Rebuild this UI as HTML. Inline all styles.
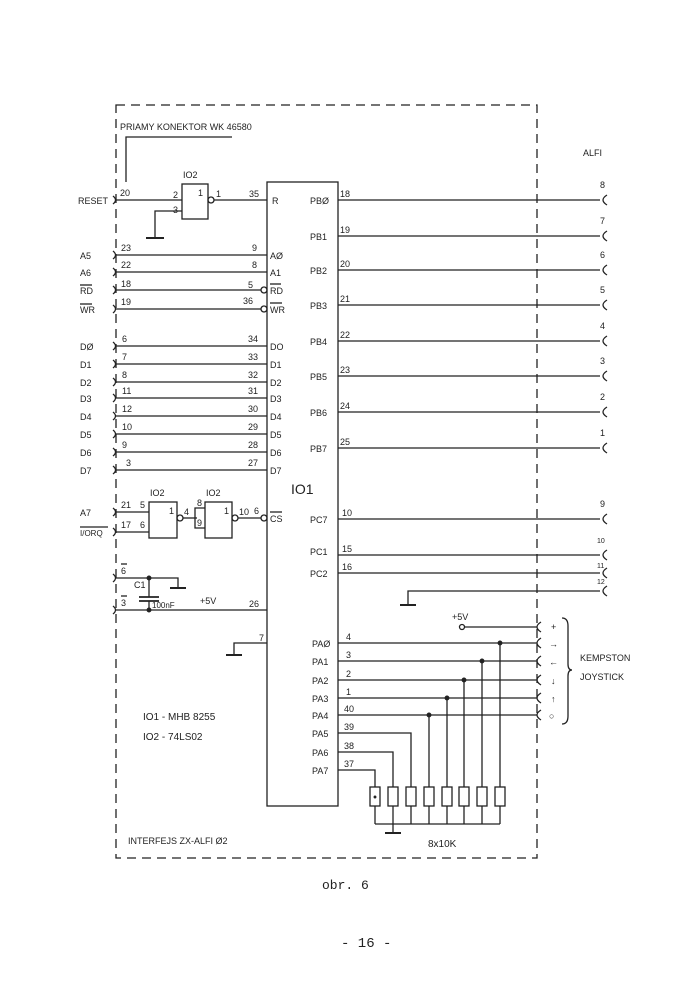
<!DOCTYPE html>
<html><head><meta charset="utf-8"><style>
html,body{margin:0;padding:0;background:#fff}
svg{display:block}
text{font-family:"Liberation Sans",sans-serif;fill:#222}
.s{font-size:9px}
.m{font-size:10px}
.mono{font-family:"Liberation Mono",monospace;font-size:14px}
</style></head><body>
<svg width="688" height="1000" viewBox="0 0 688 1000" xmlns="http://www.w3.org/2000/svg" stroke="#222" stroke-width="1.3" fill="none">
<!-- dashed frame -->
<rect x="116" y="105" width="421" height="753" stroke-dasharray="9,6"/>
<text x="120" y="130" class="s" stroke="none">PRIAMY KONEKTOR  WK 46580</text>
<polyline points="126,182 126,137 232,137"/>
<text x="583" y="156" class="s" stroke="none">ALFI</text>
<!-- IC -->
<rect x="267" y="182" width="71" height="624"/>
<text x="291" y="494" style="font-size:14px" stroke="none">IO1</text>
<!-- RESET gate -->
<text x="78" y="204" class="s" stroke="none">RESET</text>
<path d="M113,196 q5,4 0,8"/>
<text x="120" y="196" class="s" stroke="none">20</text>
<line x1="116" y1="200" x2="182" y2="200"/>
<rect x="182" y="184" width="26" height="35"/>
<text x="198" y="196" class="s" stroke="none">1</text>
<text x="173" y="198" class="s" stroke="none">2</text>
<text x="173" y="213" class="s" stroke="none">3</text>
<text x="183" y="178" class="s" stroke="none">IO2</text>
<polyline points="182,211 155,211 155,237"/>
<line x1="146" y1="238" x2="164" y2="238" stroke-width="2"/>
<circle cx="211" cy="200" r="3"/>
<line x1="214" y1="200" x2="267" y2="200"/>
<text x="216" y="197" class="s" stroke="none">1</text>
<text x="249" y="197" class="s" stroke="none">35</text>
<text x="272" y="204" class="s" stroke="none">R</text>
<!-- left pins -->
<g class="s" stroke="none">
<text x="80" y="259">A5</text><text x="80" y="276">A6</text>
<text x="80" y="294">RD</text><text x="80" y="313">WR</text>
<text x="80" y="350">DØ</text><text x="80" y="368">D1</text><text x="80" y="386">D2</text><text x="80" y="402">D3</text>
<text x="80" y="420">D4</text><text x="80" y="438">D5</text><text x="80" y="456">D6</text><text x="80" y="474">D7</text>
<text x="80" y="516">A7</text><text x="80" y="536" style="font-size:8px">I/ORQ</text>
</g>
<line x1="80" y1="285" x2="92" y2="285"/><line x1="80" y1="304" x2="92" y2="304"/><line x1="80" y1="527" x2="108" y2="527"/>
<g>
<path d="M113,251 q5,4 0,8"/><line x1="116" y1="255" x2="267" y2="255"/>
<path d="M113,268 q5,4 0,8"/><line x1="116" y1="272" x2="267" y2="272"/>
<path d="M113,286 q5,4 0,8"/><line x1="116" y1="290" x2="261" y2="290"/><circle cx="264" cy="290" r="3"/>
<path d="M113,305 q5,4 0,8"/><line x1="116" y1="309" x2="261" y2="309"/><circle cx="264" cy="309" r="3"/>
<path d="M113,342 q5,4 0,8"/><line x1="116" y1="346" x2="267" y2="346"/>
<path d="M113,360 q5,4 0,8"/><line x1="116" y1="364" x2="267" y2="364"/>
<path d="M113,378 q5,4 0,8"/><line x1="116" y1="382" x2="267" y2="382"/>
<path d="M113,394 q5,4 0,8"/><line x1="116" y1="398" x2="267" y2="398"/>
<path d="M113,412 q5,4 0,8"/><line x1="116" y1="416" x2="267" y2="416"/>
<path d="M113,430 q5,4 0,8"/><line x1="116" y1="434" x2="267" y2="434"/>
<path d="M113,448 q5,4 0,8"/><line x1="116" y1="452" x2="267" y2="452"/>
<path d="M113,466 q5,4 0,8"/><line x1="116" y1="470" x2="267" y2="470"/>
</g>
<g class="s" stroke="none">
<text x="121" y="251">23</text><text x="121" y="268">22</text><text x="121" y="287">18</text><text x="121" y="305">19</text>
<text x="122" y="342">6</text><text x="122" y="360">7</text><text x="122" y="378">8</text><text x="122" y="394">11</text>
<text x="122" y="412">12</text><text x="122" y="430">10</text><text x="122" y="448">9</text><text x="126" y="466">3</text>
<text x="252" y="251">9</text><text x="252" y="268">8</text><text x="248" y="288">5</text><text x="243" y="304">36</text>
<text x="248" y="342">34</text><text x="248" y="360">33</text><text x="248" y="378">32</text><text x="248" y="394">31</text>
<text x="248" y="412">30</text><text x="248" y="430">29</text><text x="248" y="448">28</text><text x="248" y="466">27</text>
<text x="270" y="259">AØ</text><text x="270" y="276">A1</text><text x="270" y="294">RD</text><text x="270" y="313">WR</text>
<text x="270" y="350">DO</text><text x="270" y="368">D1</text><text x="270" y="386">D2</text><text x="270" y="402">D3</text>
<text x="270" y="420">D4</text><text x="270" y="438">D5</text><text x="270" y="456">D6</text><text x="270" y="474">D7</text>
</g>
<line x1="270" y1="284" x2="281" y2="284"/><line x1="270" y1="303" x2="282" y2="303"/>
<!-- A7 / IORQ gates -->
<path d="M113,508 q5,4 0,8"/><line x1="116" y1="512" x2="149" y2="512"/>
<path d="M113,528 q5,4 0,8"/><line x1="116" y1="532" x2="149" y2="532"/>
<text x="121" y="508" class="s" stroke="none">21</text><text x="121" y="528" class="s" stroke="none">17</text>
<text x="140" y="508" class="s" stroke="none">5</text><text x="140" y="528" class="s" stroke="none">6</text>
<rect x="149" y="502" width="28" height="36"/>
<text x="169" y="514" class="s" stroke="none">1</text>
<text x="150" y="496" class="s" stroke="none">IO2</text>
<circle cx="180" cy="518" r="3"/>
<line x1="183" y1="518" x2="197" y2="518"/>
<text x="184" y="515" class="s" stroke="none">4</text>
<polyline points="205,508 195,508 195,528 205,528"/>
<text x="197" y="506" class="s" stroke="none">8</text><text x="197" y="526" class="s" stroke="none">9</text>
<rect x="205" y="502" width="27" height="36"/>
<text x="224" y="514" class="s" stroke="none">1</text>
<text x="206" y="496" class="s" stroke="none">IO2</text>
<circle cx="235" cy="518" r="3"/>
<line x1="238" y1="518" x2="261" y2="518"/><circle cx="264" cy="518" r="3"/>
<text x="239" y="515" class="s" stroke="none">10</text><text x="254" y="514" class="s" stroke="none">6</text>
<text x="270" y="522" class="s" stroke="none">CS</text><line x1="270" y1="512" x2="282" y2="512"/>
<!-- cap and power -->
<path d="M113,574 q5,4 0,8"/><text x="121" y="574" class="s" stroke="none">6</text><line x1="121" y1="564" x2="127" y2="564"/>
<polyline points="116,578 178,578 178,587"/>
<line x1="170" y1="588" x2="186" y2="588" stroke-width="2"/>
<line x1="149" y1="578" x2="149" y2="597"/>
<line x1="139" y1="597" x2="159" y2="597" stroke-width="1.8"/>
<line x1="139" y1="601" x2="159" y2="601" stroke-width="1.8"/>
<line x1="149" y1="601" x2="149" y2="610"/>
<circle cx="149" cy="578" r="1.8" fill="#222"/><circle cx="149" cy="610" r="1.8" fill="#222"/>
<text x="134" y="588" class="s" stroke="none">C1</text>
<text x="152" y="608" style="font-size:8px" stroke="none">100nF</text>
<path d="M113,606 q5,4 0,8"/><text x="121" y="606" class="s" stroke="none">3</text><line x1="121" y1="596" x2="127" y2="596"/>
<line x1="116" y1="610" x2="267" y2="610"/>
<text x="200" y="604" class="s" stroke="none">+5V</text>
<text x="249" y="607" class="s" stroke="none">26</text>
<polyline points="267,643 234,643 234,654"/>
<line x1="226" y1="655" x2="242" y2="655" stroke-width="2"/>
<text x="259" y="641" class="s" stroke="none">7</text>
<text x="143" y="720" class="m" stroke="none">IO1 - MHB 8255</text>
<text x="143" y="740" class="m" stroke="none">IO2 - 74LS02</text>
<text x="128" y="844" class="s" stroke="none">INTERFEJS  ZX-ALFI Ø2</text>
<!-- right side PB/PC -->
<g>
<line x1="338" y1="200" x2="600" y2="200"/><line x1="338" y1="236" x2="600" y2="236"/>
<line x1="338" y1="270" x2="600" y2="270"/><line x1="338" y1="305" x2="600" y2="305"/>
<line x1="338" y1="341" x2="600" y2="341"/><line x1="338" y1="376" x2="600" y2="376"/>
<line x1="338" y1="412" x2="600" y2="412"/><line x1="338" y1="448" x2="600" y2="448"/>
<line x1="338" y1="519" x2="600" y2="519"/><line x1="338" y1="555" x2="600" y2="555"/>
<line x1="338" y1="573" x2="600" y2="573"/>
<polyline points="408,604 408,591 600,591"/>
<line x1="400" y1="605" x2="416" y2="605" stroke-width="2"/>
<path d="M607,195 q-8,5 0,10"/><path d="M607,231 q-8,5 0,10"/><path d="M607,265 q-8,5 0,10"/>
<path d="M607,300 q-8,5 0,10"/><path d="M607,336 q-8,5 0,10"/><path d="M607,371 q-8,5 0,10"/>
<path d="M607,407 q-8,5 0,10"/><path d="M607,443 q-8,5 0,10"/><path d="M607,514 q-8,5 0,10"/>
<path d="M607,550 q-8,5 0,10"/><path d="M607,568 q-8,5 0,10"/><path d="M607,586 q-8,5 0,10"/>
</g>
<g class="s" stroke="none">
<text x="340" y="197">18</text><text x="340" y="233">19</text><text x="340" y="267">20</text><text x="340" y="302">21</text>
<text x="340" y="338">22</text><text x="340" y="373">23</text><text x="340" y="409">24</text><text x="340" y="445">25</text>
<text x="342" y="516">10</text><text x="342" y="552">15</text><text x="342" y="570">16</text>
<text x="310" y="204">PBØ</text><text x="310" y="240">PB1</text><text x="310" y="274">PB2</text><text x="310" y="309">PB3</text>
<text x="310" y="345">PB4</text><text x="310" y="380">PB5</text><text x="310" y="416">PB6</text><text x="310" y="452">PB7</text>
<text x="310" y="523">PC7</text><text x="310" y="555">PC1</text><text x="310" y="577">PC2</text>
<text x="600" y="188">8</text><text x="600" y="224">7</text><text x="600" y="258">6</text><text x="600" y="293">5</text>
<text x="600" y="329">4</text><text x="600" y="364">3</text><text x="600" y="400">2</text><text x="600" y="436">1</text>
<text x="600" y="507">9</text><text x="597" y="543" style="font-size:7px">10</text><text x="597" y="568" style="font-size:7px">11</text><text x="597" y="584" style="font-size:7px">12</text>
</g>
<!-- PA -->
<g class="s" stroke="none">
<text x="312" y="647">PAØ</text><text x="312" y="665">PA1</text><text x="312" y="684">PA2</text><text x="312" y="702">PA3</text>
<text x="312" y="719">PA4</text><text x="312" y="737">PA5</text><text x="312" y="756">PA6</text><text x="312" y="774">PA7</text>
<text x="346" y="640">4</text><text x="346" y="658">3</text><text x="346" y="677">2</text><text x="346" y="695">1</text>
<text x="344" y="712">40</text><text x="344" y="730">39</text><text x="344" y="749">38</text><text x="344" y="767">37</text>
<text x="452" y="620">+5V</text>
<text x="551" y="630">+</text><text x="549" y="647">→</text><text x="549" y="665">←</text>
<text x="551" y="684">↓</text><text x="551" y="702">↑</text><text x="549" y="719">○</text>
<text x="580" y="661">KEMPSTON</text><text x="580" y="680">JOYSTICK</text>
<text x="428" y="847" class="m">8x10K</text>
</g>
<circle cx="462" cy="627" r="2.5"/>
<line x1="465" y1="627" x2="537" y2="627"/>
<line x1="338" y1="643" x2="537" y2="643"/><line x1="338" y1="661" x2="537" y2="661"/>
<line x1="338" y1="680" x2="537" y2="680"/><line x1="338" y1="698" x2="537" y2="698"/>
<line x1="338" y1="715" x2="537" y2="715"/>
<path d="M541,622 q-8,5 0,10"/><path d="M541,638 q-8,5 0,10"/><path d="M541,656 q-8,5 0,10"/>
<path d="M541,675 q-8,5 0,10"/><path d="M541,693 q-8,5 0,10"/><path d="M541,710 q-8,5 0,10"/>
<path d="M562,618 q6,0 6,8 v38 q0,6 4,6 q-4,0 -4,6 v40 q0,8 -6,8"/>
<polyline points="338,733 411,733 411,787"/>
<polyline points="338,752 393,752 393,787"/>
<polyline points="338,770 375,770 375,787"/>
<line x1="500" y1="643" x2="500" y2="787"/><circle cx="500" cy="643" r="1.8" fill="#222"/>
<line x1="482" y1="661" x2="482" y2="787"/><circle cx="482" cy="661" r="1.8" fill="#222"/>
<line x1="464" y1="680" x2="464" y2="787"/><circle cx="464" cy="680" r="1.8" fill="#222"/>
<line x1="447" y1="698" x2="447" y2="787"/><circle cx="447" cy="698" r="1.8" fill="#222"/>
<line x1="429" y1="715" x2="429" y2="787"/><circle cx="429" cy="715" r="1.8" fill="#222"/>
<g>
<rect x="370" y="787" width="10" height="19"/><rect x="388" y="787" width="10" height="19"/>
<rect x="406" y="787" width="10" height="19"/><rect x="424" y="787" width="10" height="19"/>
<rect x="442" y="787" width="10" height="19"/><rect x="459" y="787" width="10" height="19"/>
<rect x="477" y="787" width="10" height="19"/><rect x="495" y="787" width="10" height="19"/>
<line x1="375" y1="806" x2="375" y2="824"/><line x1="393" y1="806" x2="393" y2="833"/>
<line x1="411" y1="806" x2="411" y2="824"/><line x1="429" y1="806" x2="429" y2="824"/>
<line x1="447" y1="806" x2="447" y2="824"/><line x1="464" y1="806" x2="464" y2="824"/>
<line x1="482" y1="806" x2="482" y2="824"/><line x1="500" y1="806" x2="500" y2="824"/>
<line x1="375" y1="824" x2="500" y2="824"/>
<line x1="385" y1="833" x2="401" y2="833" stroke-width="2"/>
</g>
<circle cx="375" cy="797" r="0.8" fill="#222"/>
<text x="322" y="889" class="mono" stroke="none" style="font-size:13px">obr. 6</text>
<text x="341" y="947" class="mono" stroke="none" style="font-size:14px">- 16 -</text>
</svg>
</body></html>
